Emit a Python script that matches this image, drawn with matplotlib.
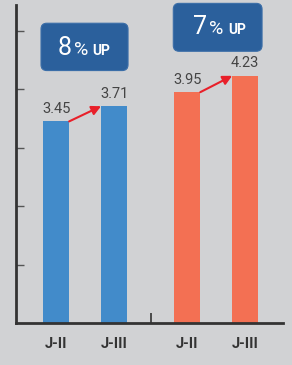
import matplotlib.pyplot as plt
from matplotlib.patches import FancyBboxPatch

plt.rcParams['font.family'] = ['Roboto', 'DejaVu Sans']

# data
labels = ['J-II', 'J-III', 'J-II', 'J-III']
values = [3.45, 3.71, 3.95, 4.23]
colors = ['#428bca', '#428bca', '#f37053', '#f37053']
growth = ['8', '7']

x = [0, 1, 2.26, 3.26]
w = 0.45
bg = '#d1d2d4'
axis_col = '#333333'

fig = plt.figure(figsize=(2.92, 3.65), dpi=100, facecolor=bg)
ax = fig.add_axes([0.055, 0.115, 0.914, 0.871])
ax.set_facecolor(bg)

ax.bar(x, values, width=w, color=colors, zorder=2)

for xi, v in zip(x, values):
    ax.annotate(f'{v:.2f}', (xi, v), xytext=(0, 6), textcoords='offset points',
                ha='center', va='baseline', fontsize=10.5, color='#444444')

# red arrows between bar tops
for i in (0, 2):
    ax.annotate('', xy=(x[i + 1] - w / 2, values[i + 1]), xytext=(x[i] + w / 2, values[i]),
                arrowprops=dict(arrowstyle='-|>,head_length=0.55,head_width=0.28',
                                color='#e8202a', lw=1.5, shrinkA=0, shrinkB=0), zorder=3)

# "% UP" boxes
boxes = [(-0.26, 4.32, 1.5, 0.81), (2.02, 4.65, 1.53, 0.82)]
for (bx, by, bw, bh), g in zip(boxes, growth):
    ax.add_patch(FancyBboxPatch((bx, by), bw, bh, boxstyle='round,pad=0,rounding_size=0.1',
                                fc='#2b609c', ec='#3b6ea8', lw=0.8, clip_on=False, zorder=3))
    base = by + 0.26 if g == '8' else by + 0.29
    x0 = bx + 0.29 if g == '8' else bx + 0.34
    ax.text(x0, base, g, fontsize=18, color='white', ha='left', va='baseline', zorder=4, clip_on=False)
    ax.text(x0 + 0.28, base, '%', fontsize=14, color='white', ha='left', va='baseline', zorder=4, clip_on=False)
    ax.text(x0 + 0.6, base, 'UP', fontsize=10, fontweight='bold', color='white',
            ha='left', va='baseline', zorder=4, clip_on=False)

ax.set_xlim(-0.69, 3.91)
ax.set_ylim(0, 5.44)
ax.set_xticks(x, labels, fontsize=10.5, fontweight='bold', color='#333333')
ax.set_xticks([(x[1] + x[2]) / 2], minor=True)
ax.set_yticks([1, 2, 3, 4, 5])
ax.tick_params(axis='x', which='major', length=0, pad=10)
ax.tick_params(axis='x', which='minor', direction='in', length=7, width=1.2, color=axis_col)
ax.tick_params(axis='y', direction='in', length=6, width=1, color='#555555', labelleft=False)

for s in ('top', 'right'):
    ax.spines[s].set_visible(False)
for s in ('left', 'bottom'):
    ax.spines[s].set_color(axis_col)
    ax.spines[s].set_linewidth(2)

fig.savefig('out.png', dpi=100, facecolor=bg)
